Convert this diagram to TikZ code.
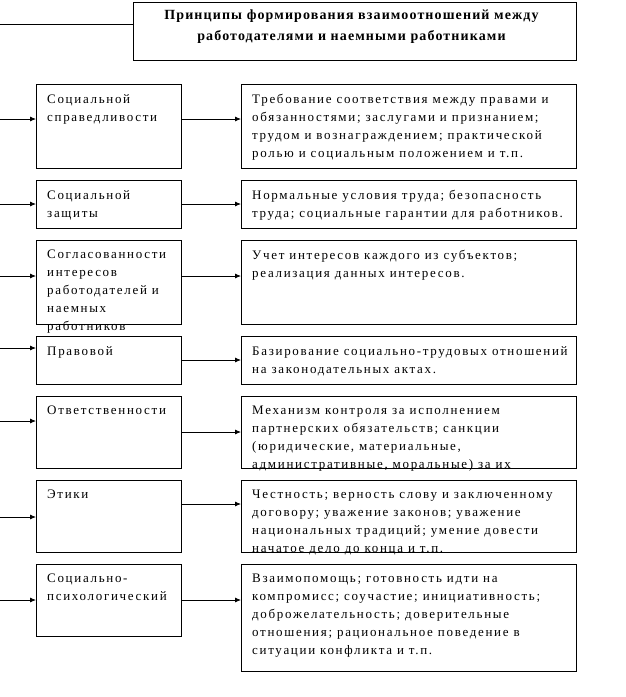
\documentclass[tikz,border=0pt]{standalone}
\usepackage{fontspec}
\setmainfont{Liberation Serif}
\newfontfamily\spacedfont{Liberation Serif}[LetterSpace=13]
\newfontfamily\titlefont{Liberation Serif}[LetterSpace=8]
\usetikzlibrary{arrows.meta,positioning}

\begin{document}
\begin{tikzpicture}[x=1pt, y=-1pt,
  lb/.style={rectangle, draw=black, line width=0.9pt, outer sep=0pt, minimum width=145pt, anchor=north},
  rb/.style={rectangle, draw=black, line width=0.9pt, outer sep=0pt, minimum width=335pt},
  tb/.style={rectangle, draw=black, line width=0.9pt, outer sep=0pt, minimum width=443pt, minimum height=58pt},
  tx/.style={anchor=north west, inner sep=0pt, align=left, font=\fontsize{13}{18}\spacedfont},
  tt/.style={anchor=north, inner sep=0pt, align=center, font=\fontsize{14}{21}\titlefont\bfseries},
  arr/.style={-{Latex[length=6pt,width=5pt]}, line width=0.8pt},
  node distance=12pt]
\useasboundingbox (0,0) rectangle (626,697);

% title
\node[tb, anchor=north west] (title) at (133,2) {};
\node[tt] (titlet) at ([xshift=-3pt,yshift=-8pt]title.north) {Принципы формирования взаимоотношений между\\работодателями и наемными работниками};
\coordinate (top) at (0,24);
\draw[line width=0.8pt] (top) -- (top -| title.west);

% left column
\node[lb, minimum height=84pt] (l1) at (108.5,84) {};
\node[lb, minimum height=48pt, below=of l1] (l2) {};
\node[lb, minimum height=84pt, below=of l2] (l3) {};
\node[lb, minimum height=48pt, below=of l3] (l4) {};
\node[lb, minimum height=72pt, below=of l4] (l5) {};
\node[lb, minimum height=72pt, below=of l5] (l6) {};
\node[lb, minimum height=72pt, below=of l6] (l7) {};

% right column
\node[rb, minimum height=84pt, right=60pt of l1.north east, anchor=north west] (r1) {};
\node[rb, minimum height=48pt, right=60pt of l2.north east, anchor=north west] (r2) {};
\node[rb, minimum height=84pt, right=60pt of l3.north east, anchor=north west] (r3) {};
\node[rb, minimum height=48pt, right=60pt of l4.north east, anchor=north west] (r4) {};
\node[rb, minimum height=72pt, right=60pt of l5.north east, anchor=north west] (r5) {};
\node[rb, minimum height=72pt, right=60pt of l6.north east, anchor=north west] (r6) {};
\node[rb, minimum height=107pt, right=60pt of l7.north east, anchor=north west] (r7) {};

% texts
\node[tx] (l1t) at ([shift={(11pt,-10pt)}]l1.north west) {Социальной\\справедливости};
\node[tx] (l2t) at ([shift={(11pt,-10pt)}]l2.north west) {Социальной\\защиты};
\node[tx] (l3t) at ([shift={(11pt,-10pt)}]l3.north west) {Согласованности\\интересов\\работодателей и\\наемных\\работников};
\node[tx] (l4t) at ([shift={(11pt,-10pt)}]l4.north west) {Правовой};
\node[tx] (l5t) at ([shift={(11pt,-10pt)}]l5.north west) {Ответственности};
\node[tx] (l6t) at ([shift={(11pt,-10pt)}]l6.north west) {Этики};
\node[tx] (l7t) at ([shift={(11pt,-10pt)}]l7.north west) {Социально-\\психологический};

\node[tx] (r1t) at ([shift={(11pt,-10pt)}]r1.north west) {Требование соответствия между правами и\\обязанностями; заслугами и признанием;\\трудом и вознаграждением; практической\\ролью и социальным положением и т.п.};
\node[tx] (r2t) at ([shift={(11pt,-10pt)}]r2.north west) {Нормальные условия труда; безопасность\\труда; социальные гарантии для работников.};
\node[tx] (r3t) at ([shift={(11pt,-10pt)}]r3.north west) {Учет интересов каждого из субъектов;\\реализация данных интересов.};
\node[tx] (r4t) at ([shift={(11pt,-10pt)}]r4.north west) {Базирование социально-трудовых отношений\\на законодательных актах.};
\node[tx] (r5t) at ([shift={(11pt,-10pt)}]r5.north west) {Механизм контроля за исполнением\\партнерских обязательств; санкции\\(юридические, материальные,\\административные, моральные) за их};
\node[tx] (r6t) at ([shift={(11pt,-10pt)}]r6.north west) {Честность; верность слову и заключенному\\договору; уважение законов; уважение\\национальных традиций; умение довести\\начатое дело до конца и т.п.};
\node[tx] (r7t) at ([shift={(11pt,-10pt)}]r7.north west) {Взаимопомощь; готовность идти на\\компромисс; соучастие; инициативность;\\доброжелательность; доверительные\\отношения; рациональное поведение в\\ситуации конфликта и т.п.};

% arrows in
\coordinate (a1) at (0,119);
\coordinate (a2) at (0,204);
\coordinate (a3) at (0,276);
\coordinate (a4) at (0,348);
\coordinate (a5) at (0,421);
\coordinate (a6) at (0,517);
\coordinate (a7) at (0,600);
\draw[arr] (a1) -- (a1 -| l1.west);
\draw[arr] (a2) -- (a2 -| l2.west);
\draw[arr] (a3) -- (a3 -| l3.west);
\draw[arr] (a4) -- (a4 -| l4.west);
\draw[arr] (a5) -- (a5 -| l5.west);
\draw[arr] (a6) -- (a6 -| l6.west);
\draw[arr] (a7) -- (a7 -| l7.west);

% arrows across
\coordinate (b1) at (0,119);
\coordinate (b2) at (0,204);
\coordinate (b3) at (0,276);
\coordinate (b4) at (0,360);
\coordinate (b5) at (0,432);
\coordinate (b6) at (0,504);
\coordinate (b7) at (0,600);
\draw[arr] (b1 -| l1.east) -- (b1 -| r1.west);
\draw[arr] (b2 -| l2.east) -- (b2 -| r2.west);
\draw[arr] (b3 -| l3.east) -- (b3 -| r3.west);
\draw[arr] (b4 -| l4.east) -- (b4 -| r4.west);
\draw[arr] (b5 -| l5.east) -- (b5 -| r5.west);
\draw[arr] (b6 -| l6.east) -- (b6 -| r6.west);
\draw[arr] (b7 -| l7.east) -- (b7 -| r7.west);
\end{tikzpicture}
\end{document}
